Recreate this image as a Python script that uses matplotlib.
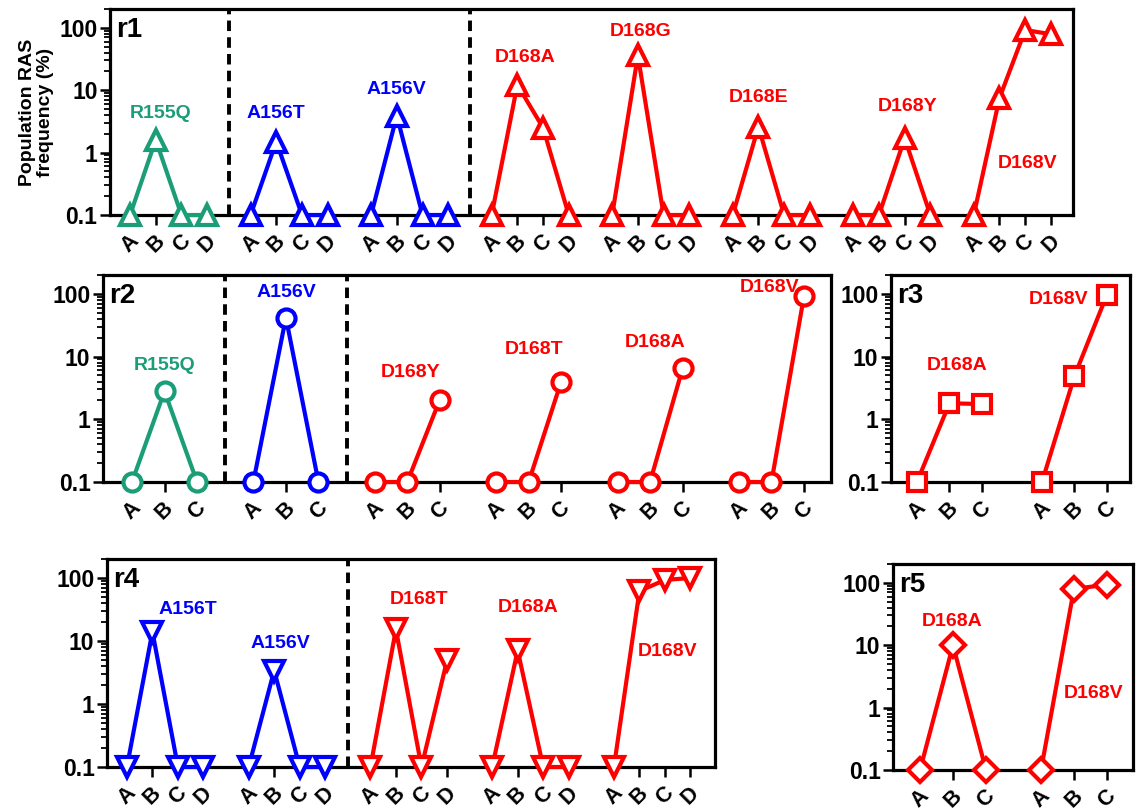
import numpy as np
import matplotlib
matplotlib.use("Agg")
import matplotlib.pyplot as plt
from matplotlib.ticker import FixedLocator, NullFormatter

plt.rcParams['font.family'] = ['Liberation Sans', 'DejaVu Sans']
plt.rcParams['font.weight'] = 'bold'

W, H = 1136, 811

GREEN = '#1b9e77'
BLUE = '#0000ff'
RED = '#ff0000'

# ---- data (frequency %, 0.1 = not detected) ----
r1_mutations = ['R155Q', 'A156T', 'A156V', 'D168A', 'D168G', 'D168E', 'D168Y', 'D168V']
r1_points = ['A', 'B', 'C', 'D']
r1_values = [
    [0.1, 1.6, 0.1, 0.1],
    [0.1, 1.5, 0.1, 0.1],
    [0.1, 3.9, 0.1, 0.1],
    [0.1, 12.2, 2.5, 0.1],
    [0.1, 36, 0.1, 0.1],
    [0.1, 2.6, 0.1, 0.1],
    [0.1, 0.1, 1.7, 0.1],
    [0.1, 7.5, 92, 79],
]
r1_label_pos = [(1.2, 4.2), (1.0, 4.2), (1.0, 10.1), (1.3, 33), (1.1, 87),
                (1.0, 7.5), (2.1, 5.4), (2.1, 0.68)]

r2_mutations = ['R155Q', 'A156V', 'D168Y', 'D168T', 'D168A', 'D168V']
r2_points = ['A', 'B', 'C']
r2_values = [
    [0.1, 2.8, 0.1],
    [0.1, 42, 0.1],
    [0.1, 0.1, 2.05],
    [0.1, 0.1, 4.0],
    [0.1, 0.1, 6.5],
    [0.1, 0.1, 92],
]
r2_label_pos = [(1.0, 7.3), (1.0, 107), (1.1, 5.6), (1.17, 13.2), (1.17, 17), (0.95, 125)]

r3_mutations = ['D168A', 'D168V']
r3_points = ['A', 'B', 'C']
r3_values = [
    [0.1, 1.8, 1.75],
    [0.1, 4.9, 97],
]
r3_label_pos = [(1.23, 7.3), (0.52, 80)]

r4_mutations = ['A156T', 'A156V', 'D168T', 'D168A', 'D168V']
r4_points = ['A', 'B', 'C', 'D']
r4_values = [
    [0.1, 14, 0.1, 0.1],
    [0.1, 3.4, 0.1, 0.1],
    [0.1, 15.3, 0.1, 4.9],
    [0.1, 7.1, 0.1, 0.1],
    [0.1, 62, 93, 100],
]
r4_label_pos = [(2.4, 32), (1.25, 9.2), (1.9, 45), (1.4, 34), (2.1, 6.8)]

r5_mutations = ['D168A', 'D168V']
r5_points = ['A', 'B', 'C']
r5_values = [
    [0.1, 10, 0.1],
    [0.1, 80, 93],
]
r5_label_pos = [(0.97, 24), (1.58, 1.7)]


def color_for(mut):
    if mut.startswith('R155'):
        return GREEN
    if mut.startswith('A156'):
        return BLUE
    return RED


fig = plt.figure(figsize=(W / 100, H / 100), dpi=100)


def draw_panel(box, name, mutations, points, values, label_pos, marker, stride,
               xlim, dividers=(), ylabel=None, ms=13):
    left, right, top, bottom = box
    ax = fig.add_axes([left / W, 1 - bottom / H, (right - left) / W, (bottom - top) / H])
    ax.set_yscale('log')
    ax.set_ylim(0.1, 200)
    ax.set_xlim(*xlim)

    n = len(points)
    ticks, tick_labels = [], []
    for g, (mut, vals, (dx, ly)) in enumerate(zip(mutations, values, label_pos)):
        c = color_for(mut)
        x = g * stride + np.arange(n)
        ax.plot(x, vals, color=c, lw=3.0, marker=marker, ms=ms, mfc='white',
                mec=c, mew=3.0, clip_on=False, zorder=5)
        ax.text(g * stride + dx, ly, mut, color=c, ha='center', va='center',
                fontsize=14, fontweight='bold', zorder=6)
        ticks.extend(x)
        tick_labels.extend(points)

    # dashed separators between mutation families
    for k in dividers:
        xd = (k * stride + n - 1 + (k + 1) * stride) / 2
        ax.axvline(xd, color='black', lw=2.8, ls=(0, (2.7, 1.6)), zorder=3)

    ax.set_xticks(ticks)
    ax.set_xticklabels(tick_labels, rotation=45, ha='center', va='top',
                       fontsize=15.5, fontweight='bold')
    ax.tick_params(axis='x', length=7, width=1.8, direction='out', pad=4)

    ax.yaxis.set_major_locator(FixedLocator([0.1, 1, 10, 100]))
    ax.set_yticklabels(['0.1', '1', '10', '100'], fontsize=16.5, fontweight='bold')
    minors = [m * d for d in (0.1, 1, 10, 100) for m in range(2, 10)]
    minors = [v for v in minors if v <= 200]
    ax.yaxis.set_minor_locator(FixedLocator(minors))
    ax.yaxis.set_minor_formatter(NullFormatter())
    ax.tick_params(axis='y', which='major', length=7, width=1.8, pad=2)
    ax.tick_params(axis='y', which='minor', length=4, width=1.3)

    for s in ax.spines.values():
        s.set_linewidth(2.3)

    ax.text(6 / (right - left), 1 - 8 / (bottom - top), name, transform=ax.transAxes,
            ha='left', va='top', fontsize=20, fontweight='bold', zorder=7)

    if ylabel:
        ax.set_ylabel(ylabel, fontsize=14, fontweight='bold', labelpad=4,
                      linespacing=1.05)
    return ax


draw_panel((110, 1073, 9, 215), 'r1', r1_mutations, r1_points, r1_values, r1_label_pos,
           '^', 4.69, (-0.78, 36.69), dividers=(0, 2),
           ylabel='Population RAS\nfrequency (%)', ms=14)
draw_panel((103, 831, 275, 482), 'r2', r2_mutations, r2_points, r2_values, r2_label_pos,
           'o', 3.73, (-0.89, 21.48), dividers=(0, 1))
draw_panel((891, 1130, 275, 482), 'r3', r3_mutations, r3_points, r3_values, r3_label_pos,
           's', 3.85, (-0.8, 6.56))
draw_panel((107, 715, 559, 767), 'r4', r4_mutations, r4_points, r4_values, r4_label_pos,
           'v', 4.77, (-0.78, 23.04), dividers=(1,), ms=14)
draw_panel((893, 1133, 564, 770), 'r5', r5_mutations, r5_points, r5_values, r5_label_pos,
           'D', 3.67, (-0.82, 6.46), ms=12)

fig.savefig('out.png', dpi=100)
